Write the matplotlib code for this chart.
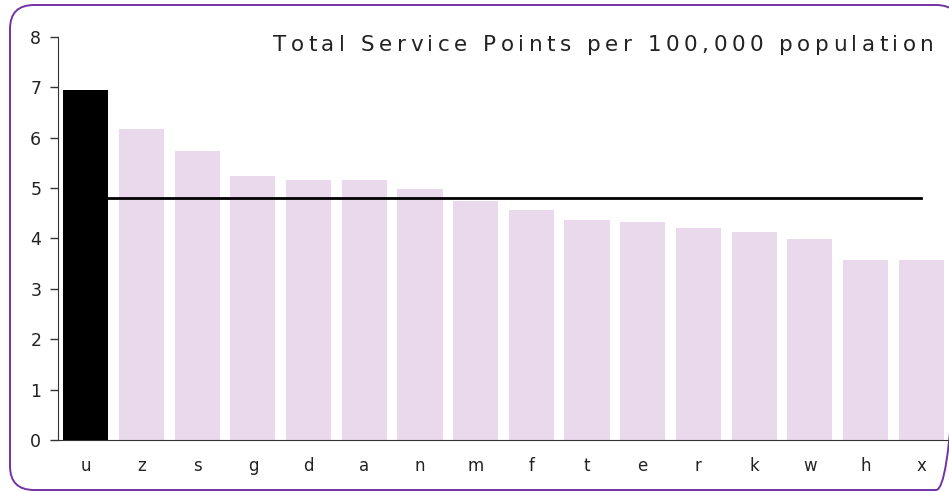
import matplotlib
matplotlib.use("Agg")
import matplotlib.pyplot as plt
from matplotlib.patches import FancyBboxPatch
from matplotlib.font_manager import FontProperties, findfont, get_font
from matplotlib.ft2font import LoadFlags

categories = ["u", "z", "s", "g", "d", "a", "n", "m", "f", "t", "e", "r", "k", "w", "h", "x"]
values = [6.94, 6.17, 5.73, 5.24, 5.16, 5.16, 4.98, 4.74, 4.56, 4.37, 4.33, 4.21, 4.13, 3.99, 3.57, 3.57]
average = 4.81
highlight = "u"
title = "Total Service Points per 100,000 population"

W, H = 949, 491
TEXT = "#222222"


def tracked_text(ax, x0, x1, y, s, size):
    # spread the characters so the string fills x0..x1 (pixels)
    prop = FontProperties(family="DejaVu Sans", size=size)
    font = get_font(findfont(prop))
    font.set_size(size, 100)
    advs = []
    for c in s:
        g = font.load_char(ord(c), flags=LoadFlags.NO_HINTING)
        advs.append(g.linearHoriAdvance / 65536)
    sp = (x1 - x0 - sum(advs)) / (len(s) - 1)
    x = x0
    for c, a in zip(s, advs):
        ax.text(x, y, c, ha="left", va="center", fontproperties=prop, color=TEXT)
        x += a + sp


fig = plt.figure(figsize=(W / 100, H / 100), dpi=100)
plt.rcParams["font.family"] = "DejaVu Sans"

# background layer in pixel units for the frame and the title
bg = fig.add_axes([0, 0, 1, 1], zorder=-1)
bg.set_xlim(0, W)
bg.set_ylim(H, 0)
bg.axis("off")
bg.add_patch(FancyBboxPatch(
    (10, 5), 950, 485,
    boxstyle="round,pad=0,rounding_size=24",
    facecolor="none", edgecolor="#7233A3", linewidth=1.4, clip_on=False,
))

ax = fig.add_axes([58 / W, 51 / H, 891 / W, 403.3 / H])
ax.set_facecolor("none")

xs = list(range(len(categories)))
colors = ["#000000" if c == highlight else "#EAD9EC" for c in categories]
zs = [3 if c == highlight else 1 for c in categories]
for x, v, col, z in zip(xs, values, colors, zs):
    ax.bar(x, v, width=0.81, color=col, zorder=z)
ax.plot([xs[0], xs[-1]], [average, average], color="black", lw=2, zorder=2)

ax.set_xlim(-0.5, 15.5)
ax.set_ylim(0, 8)
ax.set_xticks(xs)
ax.set_xticklabels(categories, fontsize=12, color=TEXT)
ax.set_yticks(range(9))
ax.tick_params(axis="x", length=0, pad=12)
ax.tick_params(axis="y", length=6, width=1, color="#333333", labelsize=12.5,
               labelcolor=TEXT, pad=6)
for s in ["top", "right"]:
    ax.spines[s].set_visible(False)
ax.spines["left"].set_color("#333333")
ax.spines["bottom"].set_color("#333333")

tracked_text(bg, 273, 934, 45, title, 15.5)

fig.savefig("out.png", dpi=100)
